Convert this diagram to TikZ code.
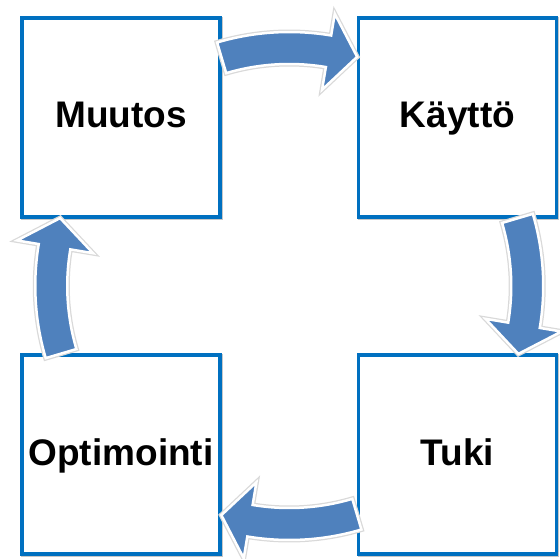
\documentclass[tikz,border=0pt]{standalone}
\usepackage{fontspec}
\setmainfont{Liberation Sans}
\definecolor{boxblue}{HTML}{0070C0}
\definecolor{arrowblue}{HTML}{4F81BD}
\begin{document}
\begin{tikzpicture}[x=1pt,y=1pt,
  stage/.style={draw=boxblue, line width=3.5pt, fill=white,
    minimum width=198pt, minimum height=199pt, inner sep=0pt, outer sep=0pt,
    text height=27pt, text depth=6pt,
    font=\fontsize{37}{44}\selectfont\bfseries,
    preaction={draw=black!22, line width=3.5pt, transform canvas={shift={(1pt,-1pt)}}}},
  cyclearrow/.style={fill=arrowblue, draw=white, line width=2.5pt, line join=miter,
    preaction={draw=black!15, line width=5pt}}
]
\useasboundingbox (0,0) rectangle (560,558);
\coordinate (hub) at (289.25,272);

% the four stages of the cycle
\node[stage] (muutos) at (121,440.5) {Muutos};
\node[stage] (kaytto) at (457.5,440.5) {Käyttö};
\node[stage] (tuki) at (457.5,103.5) {Tuki};
\node[stage] (optimointi) at (121,103.5) {Optimointi};

% curved block arrows running clockwise round the hub
\foreach \turn in {0,-90,-180,-270} {
  \begin{scope}[shift={(hub)}, rotate=\turn]
    \path[cyclearrow] (106.5:254) arc[start angle=106.5, end angle=80.5, radius=254]
      -- (80.5:276) -- (73.5:239) -- (80.5:199) -- (80.5:222)
      arc[start angle=80.5, end angle=106.5, radius=222] -- cycle;
  \end{scope}
}
\end{tikzpicture}
\end{document}
